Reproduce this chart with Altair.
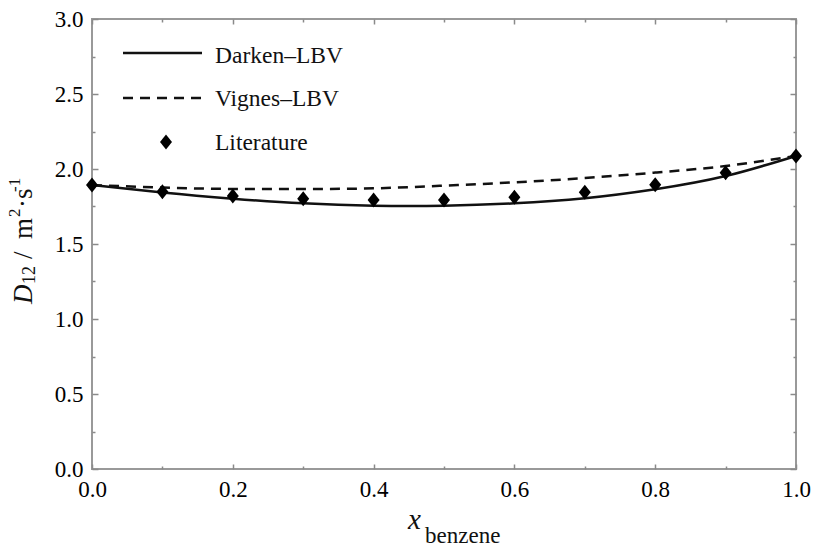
import altair as alt
import pandas as pd

# ---- data ----
x_vals = [0.0, 0.1, 0.2, 0.3, 0.4, 0.5, 0.6, 0.7, 0.8, 0.9, 1.0]
darken = [1.893, 1.843, 1.802, 1.771, 1.755, 1.755, 1.771, 1.805, 1.865, 1.953, 2.087]
vignes = [1.893, 1.876, 1.867, 1.867, 1.871, 1.889, 1.911, 1.940, 1.976, 2.020, 2.087]
literature = [1.893, 1.849, 1.820, 1.802, 1.793, 1.793, 1.811, 1.845, 1.895, 1.975, 2.087]
legend_labels = ["Darken–LBV", "Vignes–LBV", "Literature"]

x_major = [0.0, 0.2, 0.4, 0.6, 0.8, 1.0]
x_minor = [0.1, 0.3, 0.5, 0.7, 0.9]
y_major = [0.0, 0.5, 1.0, 1.5, 2.0, 2.5, 3.0]
y_minor = [0.25, 0.75, 1.25, 1.75, 2.25, 2.75]

FONT = "'Liberation Serif', 'Times New Roman', Times, serif"
DIAMOND = "M0,-1L0.8,0L0,1L-0.8,0Z"

df = pd.DataFrame({"x": x_vals, "darken": darken, "vignes": vignes, "lit": literature})
leg = pd.DataFrame({"label": legend_labels})
one = pd.DataFrame({"k": [0]})

xs = alt.Scale(domain=[0, 1], nice=False, zero=False)
ys = alt.Scale(domain=[0, 3], nice=False, zero=False)


def ax(orient, values, size, labels, pad=9):
    return alt.Axis(orient=orient, values=values, tickSize=size, offset=-size,
                    labels=labels, title=None, domain=False, grid=False,
                    format=".1f", labelPadding=pad, labelFlush=False,
                    labelFont=FONT, labelFontSize=23, labelColor="#000",
                    tickColor="#8a8a8a", tickWidth=1.5)


base = alt.Chart(df)

darken_line = base.mark_line(color="#111", strokeWidth=2.5, interpolate="natural").encode(
    x=alt.X("x:Q", scale=xs, axis=ax("bottom", x_major, 5, True, 9)),
    y=alt.Y("darken:Q", scale=ys, axis=ax("left", y_major, 6, True, 9)),
)
vignes_line = base.mark_line(color="#111", strokeWidth=2.5, strokeDash=[10, 7],
                             interpolate="natural").encode(
    x=alt.X("x:Q", scale=xs, axis=ax("bottom", x_minor, 3, False)),
    y=alt.Y("vignes:Q", scale=ys, axis=ax("left", y_minor, 3, False)),
)
lit_pts = base.mark_point(shape=DIAMOND, filled=True, size=225, color="#000", opacity=1).encode(
    x=alt.X("x:Q", scale=xs, axis=ax("top", x_major, 5, False)),
    y=alt.Y("lit:Q", scale=ys, axis=ax("right", y_major, 6, False)),
)
ghost = base.mark_point(opacity=0).encode(
    x=alt.X("x:Q", scale=xs, axis=ax("top", x_minor, 3, False)),
    y=alt.Y("lit:Q", scale=ys, axis=ax("right", y_minor, 3, False)),
)

# ---- legend ----
leg_solid = alt.Chart(one).mark_rule(color="#111", strokeWidth=2.5).encode(
    x=alt.value(31), x2=alt.value(110), y=alt.value(34))
leg_dash = alt.Chart(one).mark_rule(color="#111", strokeWidth=2.5, strokeDash=[10, 7]).encode(
    x=alt.value(31), x2=alt.value(110), y=alt.value(79))
leg_diam = alt.Chart(one).mark_point(shape=DIAMOND, filled=True, size=225, color="#000",
                                     opacity=1).encode(x=alt.value(74), y=alt.value(123))

leg_texts = []
for lab, yy in zip(legend_labels, [44, 87, 131]):
    leg_texts.append(
        alt.Chart(leg).transform_filter(alt.datum.label == lab).mark_text(
            font=FONT, fontSize=23.5, align="left", baseline="alphabetic", color="#111"
        ).encode(text="label:N", x=alt.value(123), y=alt.value(yy))
    )

# ---- axis titles built from text pieces ----
def piece(txt, x, y, size, italic=False, angle=0):
    kw = dict(text=txt, font=FONT, fontSize=size, align="left",
              baseline="alphabetic", color="#111")
    if italic:
        kw["fontStyle"] = "italic"
    if angle:
        kw["angle"] = angle
    return alt.Chart(one).mark_text(**kw).encode(x=alt.value(x), y=alt.value(y))

title_pieces = [
    piece("x", 316, 510, 29, italic=True),
    piece("benzene", 333, 524, 23),
    piece("D", -60, 285, 27, italic=True, angle=270),
    piece("12", -57, 265, 18, angle=270),
    piece("/", -60, 240, 27, angle=270),
    piece("m", -60, 220, 27, angle=270),
    piece("2", -72, 198, 17, angle=270),
    piece("·s", -60, 189, 27, angle=270),
    piece("-1", -72, 173, 17, angle=270),
]

chart = alt.layer(
    darken_line, vignes_line, lit_pts, ghost,
    leg_solid, leg_dash, leg_diam, *leg_texts, *title_pieces
).resolve_axis(x="independent", y="independent").properties(
    width=704, height=450,
    autosize=alt.AutoSizeParams(type="none"),
    padding={"left": 92, "top": 19, "right": 17, "bottom": 79},
).configure_view(stroke="#999", strokeWidth=2)

chart.save("out.html", embed_options={"renderer": "svg", "actions": False})
